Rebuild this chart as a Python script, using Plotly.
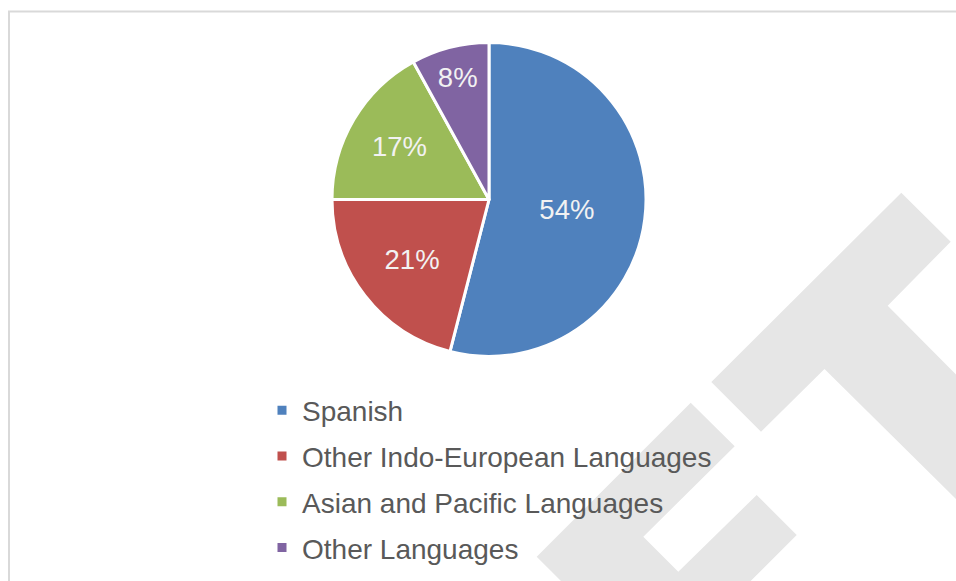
import plotly.graph_objects as go

# Home language shares (percent)
languages = ["Spanish", "Other Indo-European Languages",
             "Asian and Pacific Languages", "Other Languages"]
shares = [54, 21, 17, 8]
colors = ["#4f81bd", "#c0504d", "#9bbb59", "#8064a2"]

W, H = 956, 581


def px(x, y):
    """Pixel position -> paper coordinates."""
    return x / W, 1 - y / H


def path(points):
    pts = [px(x, y) for x, y in points]
    return "M" + " L".join(f"{a:.5f},{b:.5f}" for a, b in pts) + " Z"


fig = go.Figure()

fig.add_trace(go.Pie(
    labels=languages,
    values=shares,
    sort=False,
    direction="clockwise",
    rotation=0,
    marker=dict(colors=colors, line=dict(color="white", width=3)),
    textinfo="percent",
    texttemplate="%{percent:.0%}",
    textposition="inside",
    insidetextorientation="horizontal",
    insidetextfont=dict(family="Liberation Sans, Arial", size=27.5, color="#f2f2f2"),
    hoverinfo="label+percent",
    showlegend=False,
    domain=dict(x=[(489 - 157) / W, (489 + 157) / W],
                y=[1 - 356.5 / H, 1 - 42.5 / H]),
))

# legend entries, one per language
for name, col in zip(languages, colors):
    fig.add_trace(go.Scatter(
        x=[None], y=[None], mode="markers", name=name,
        marker=dict(symbol="square", size=9, color=col),
        legendgroup=name, showlegend=True, hoverinfo="skip",
    ))

# light watermark blocks
wm_a = [(711.3, 382), (901.3, 192.7), (950.7, 241.7), (887.7, 305.7),
        (956, 374.5), (956, 499), (824.5, 369), (761, 431.7)]
wm_b = [(690.7, 402.7), (734.7, 446.3), (643.3, 536.7), (678.3, 571.7),
        (756.7, 495), (796.7, 535), (750.7, 581), (561, 581), (536.7, 556.7)]
shapes = [
    dict(type="path", path=path(wm_a), xref="paper", yref="paper",
         fillcolor="#e6e6e6", line=dict(width=0), layer="below"),
    dict(type="path", path=path(wm_b), xref="paper", yref="paper",
         fillcolor="#e6e6e6", line=dict(width=0), layer="below"),
]
# frame lines along top and left
x0, y0 = px(9, 581)
x1, y1 = px(9, 11.5)
x2, _ = px(956, 11.5)
shapes.append(dict(type="path", path=f"M{x0},{y0} L{x1},{y1} L{x2},{y1}",
                   xref="paper", yref="paper", line=dict(color="#d9d9d9", width=2)))

fig.update_layout(
    width=W, height=H,
    margin=dict(l=0, r=0, t=0, b=0),
    paper_bgcolor="white",
    plot_bgcolor="rgba(0,0,0,0)",
    font=dict(family="Liberation Sans, Arial", color="#595959"),
    xaxis=dict(visible=False),
    yaxis=dict(visible=False),
    uniformtext=dict(minsize=27.5, mode="show"),
    shapes=shapes,
    legend=dict(
        x=(304 - 42) / W, y=1 - 385.5 / H, xanchor="left", yanchor="top",
        font=dict(size=28, color="#595959"),
        traceorder="grouped", tracegroupgap=6.4,
        bgcolor="rgba(0,0,0,0)",
    ),
)

fig.write_html("out.html")
